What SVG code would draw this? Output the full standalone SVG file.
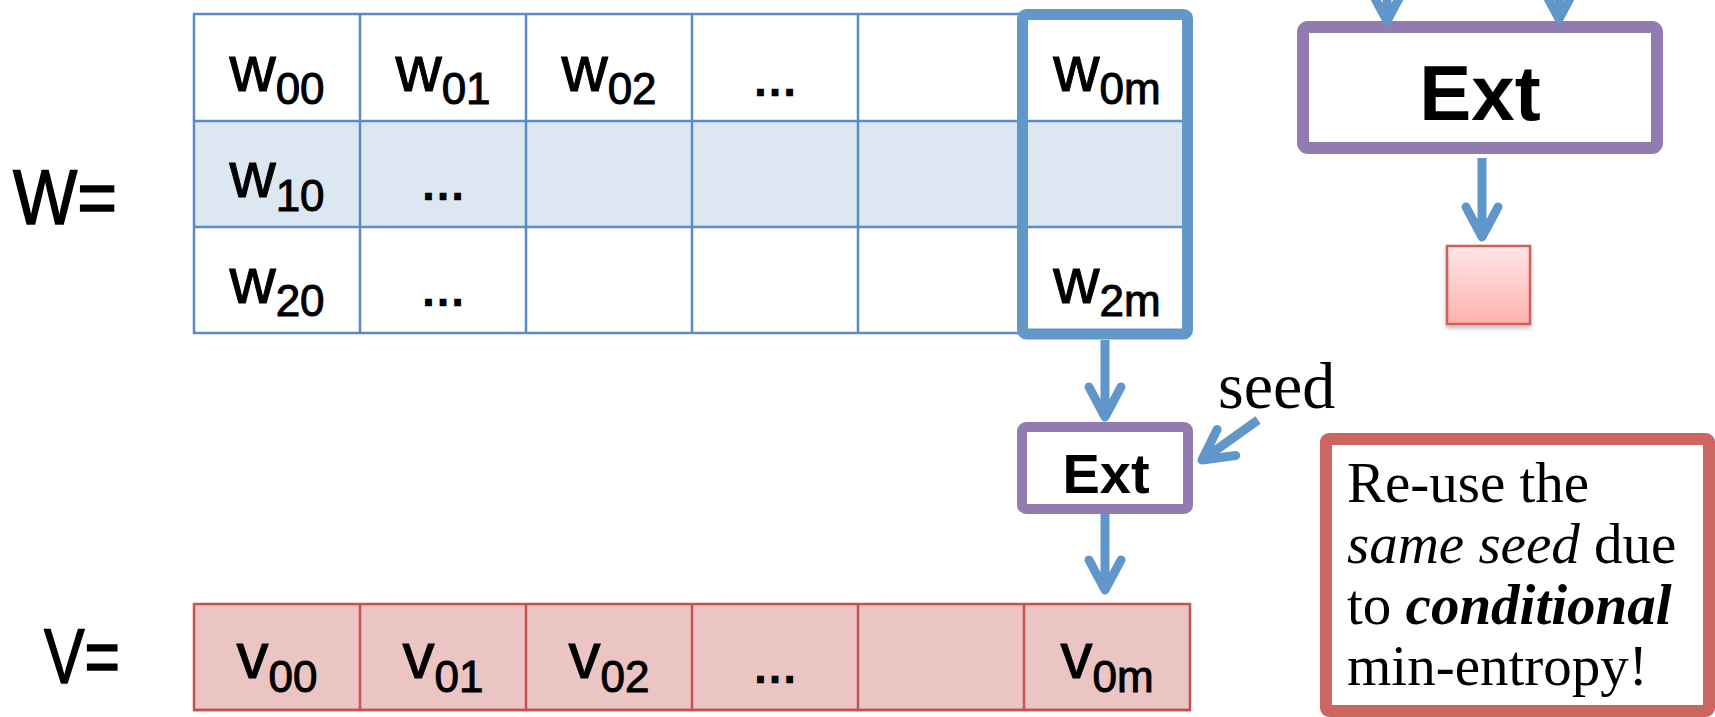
<svg xmlns="http://www.w3.org/2000/svg" width="1715" height="717" viewBox="0 0 1715 717">
  <style>
    .lbl { font-family: "Liberation Sans", Arial, sans-serif; fill: #000; stroke: #000; stroke-width: 1.5; }
    .cell { font-family: "Liberation Sans", Arial, sans-serif; font-size: 64px; fill: #000; stroke: #000; stroke-width: 1; text-anchor: middle; }
    .sub { font-size: 44px; }
    .dots { font-family: "Liberation Sans", Arial, sans-serif; font-size: 46px; fill: #000; stroke: #000; stroke-width: 2.5; text-anchor: middle; }
    .ext { font-family: "Liberation Sans", Arial, sans-serif; font-weight: bold; fill: #000; text-anchor: middle; }
    .serif { font-family: "Liberation Serif", "Times New Roman", serif; fill: #000; }
    .gridW { fill: none; stroke: #5B8BC5; stroke-width: 2.5; }
    .gridV { fill: none; stroke: #C45250; stroke-width: 2.5; }
    .wire { fill: none; stroke: #6096C9; stroke-width: 9; stroke-linecap: butt; }
    .extbox { fill: #fff; stroke: #917BB0; }
  </style>
  <defs>
    <marker id="chev" markerUnits="userSpaceOnUse" orient="auto" overflow="visible" markerWidth="1" markerHeight="1" refX="0" refY="0">
      <path d="M-30,-16 L0,0 L-30,16" fill="none" stroke="#6096C9" stroke-width="9" stroke-linecap="round" stroke-linejoin="round"/>
    </marker>
    <linearGradient id="pinkFill" x1="0" y1="0" x2="0" y2="1">
      <stop offset="0" stop-color="#FFE6E6"/>
      <stop offset="1" stop-color="#FFB2AF"/>
    </linearGradient>
    <filter id="soft" x="-20%" y="-20%" width="140%" height="150%">
      <feDropShadow dx="0" dy="3" stdDeviation="2" flood-color="#000" flood-opacity="0.25"/>
    </filter>
  </defs>

  <!-- matrix W -->
  <g id="label-W">
    <text class="lbl" x="13" y="224" font-size="78" textLength="104" lengthAdjust="spacingAndGlyphs">W=</text>
  </g>
  <g id="matrix-W">
    <rect x="194" y="121" width="996" height="106" fill="#DDE7F2"/>
    <rect class="gridW" x="194" y="14" width="996" height="319"/>
    <line class="gridW" x1="194" y1="121" x2="1190" y2="121" stroke-width="4"/>
    <line class="gridW" x1="194" y1="227" x2="1190" y2="227"/>
    <line class="gridW" x1="360" y1="14" x2="360" y2="333"/>
    <line class="gridW" x1="526" y1="14" x2="526" y2="333"/>
    <line class="gridW" x1="692" y1="14" x2="692" y2="333"/>
    <line class="gridW" x1="858" y1="14" x2="858" y2="333"/>
    <!-- row 0 -->
    <text class="cell" x="277" y="91">w<tspan class="sub" dy="13">00</tspan></text>
    <text class="cell" x="443" y="91">w<tspan class="sub" dy="13">01</tspan></text>
    <text class="cell" x="609" y="91">w<tspan class="sub" dy="13">02</tspan></text>
    <text class="dots" x="775" y="95">…</text>
    <text class="cell" x="1107" y="91">w<tspan class="sub" dy="13">0m</tspan></text>
    <!-- row 1 -->
    <text class="cell" x="277" y="197">w<tspan class="sub" dy="14">10</tspan></text>
    <text class="dots" x="443" y="199">…</text>
    <!-- row 2 -->
    <text class="cell" x="277" y="303">w<tspan class="sub" dy="13">20</tspan></text>
    <text class="dots" x="443" y="305">…</text>
    <text class="cell" x="1107" y="303">w<tspan class="sub" dy="13">2m</tspan></text>
  </g>
  <g id="column-m">
    <rect x="1022.5" y="14.5" width="165" height="319.5" rx="4" fill="none" stroke="#6397CA" stroke-width="11"/>
  </g>

  <!-- row V -->
  <g id="label-V">
    <text class="lbl" x="44" y="683" font-size="78" textLength="76" lengthAdjust="spacingAndGlyphs">V=</text>
  </g>
  <g id="row-V">
    <rect x="194" y="604" width="996" height="106" fill="#EBC5C4"/>
    <rect class="gridV" x="194" y="604" width="996" height="106"/>
    <line class="gridV" x1="194" y1="710" x2="1190" y2="710" stroke-width="4"/>
    <line class="gridV" x1="360" y1="604" x2="360" y2="710"/>
    <line class="gridV" x1="526" y1="604" x2="526" y2="710"/>
    <line class="gridV" x1="692" y1="604" x2="692" y2="710"/>
    <line class="gridV" x1="858" y1="604" x2="858" y2="710"/>
    <line class="gridV" x1="1024" y1="604" x2="1024" y2="710"/>
    <text class="cell" x="277" y="678">v<tspan class="sub" dy="14">00</tspan></text>
    <text class="cell" x="443" y="678">v<tspan class="sub" dy="14">01</tspan></text>
    <text class="cell" x="609" y="678">v<tspan class="sub" dy="14">02</tspan></text>
    <text class="dots" x="775" y="682">…</text>
    <text class="cell" x="1107" y="678">v<tspan class="sub" dy="14">0m</tspan></text>
  </g>

  <!-- extractor on the highlighted column -->
  <g id="ext-small">
    <rect class="extbox" x="1022" y="427" width="166" height="82" rx="4" stroke-width="10"/>
    <text class="ext" x="1106" y="493" font-size="56">Ext</text>
  </g>
  <g id="seed-label">
    <text class="serif" x="1218" y="408" font-size="66">seed</text>
  </g>

  <!-- extractor block, top right -->
  <g id="ext-large">
    <rect class="extbox" x="1303" y="27" width="354" height="121" rx="5" stroke-width="12"/>
    <text class="ext" x="1480" y="120" font-size="78">Ext</text>
  </g>
  <g id="output-cell">
    <rect x="1447" y="246" width="83" height="78" fill="url(#pinkFill)" stroke="#D05F5A" stroke-width="2.5" filter="url(#soft)"/>
  </g>

  <!-- note -->
  <g id="note">
    <rect x="1326" y="439" width="383" height="272" rx="3" fill="#fff" stroke="#CC6661" stroke-width="12"/>
    <text class="serif" x="1347" y="502" font-size="57">Re-use the</text>
    <text class="serif" x="1347" y="563" font-size="57"><tspan font-style="italic">same seed</tspan> due</text>
    <text class="serif" x="1347" y="624" font-size="57">to <tspan font-style="italic" font-weight="bold">conditional</tspan></text>
    <text class="serif" x="1347" y="685" font-size="57">min-entropy!</text>
  </g>

  <!-- connectors -->
  <g id="connectors">
    <line class="wire" x1="1105" y1="340" x2="1105" y2="417" marker-end="url(#chev)"/>
    <line class="wire" x1="1258" y1="420" x2="1202" y2="460" marker-end="url(#chev)"/>
    <line class="wire" x1="1105" y1="514" x2="1105" y2="590" marker-end="url(#chev)"/>
    <line class="wire" x1="1482" y1="158" x2="1482" y2="237" marker-end="url(#chev)"/>
    <line class="wire" x1="1387" y1="-20" x2="1387" y2="21" marker-end="url(#chev)"/>
    <line class="wire" x1="1559" y1="-20" x2="1559" y2="19" marker-end="url(#chev)"/>
  </g>
</svg>
